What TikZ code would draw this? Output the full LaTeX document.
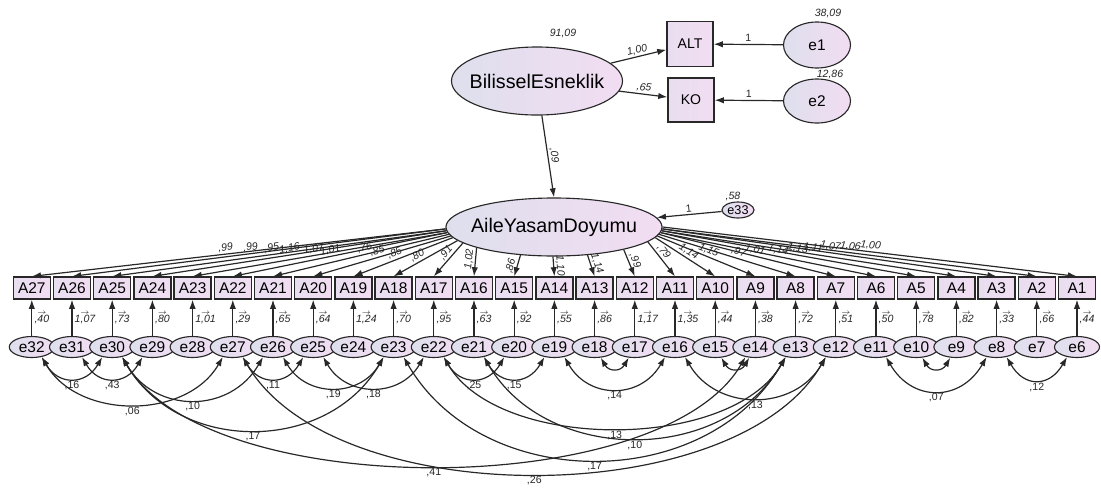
\documentclass[tikz,border=0pt]{standalone}
\usepackage{fontspec}
\setmainfont{Liberation Sans}
\usetikzlibrary{shapes,arrows.meta}

\definecolor{shadeL}{RGB}{222,223,237}
\definecolor{shadeR}{RGB}{242,221,242}
\definecolor{edgecol}{RGB}{40,40,40}

\begin{document}
\begin{tikzpicture}[
    x=0.025cm, y=0.025cm,
    >={Latex[length=6.5pt,width=4.5pt]},
    latent/.style={draw=edgecol, line width=0.8pt, ellipse, left color=shadeL, right color=shadeR, inner sep=0pt, inner xsep=-0.4cm, font=\fontsize{14}{16}\selectfont},
    obs/.style={draw=edgecol, line width=0.9pt, rectangle, left color=shadeL!50!shadeR, right color=shadeR, inner sep=0pt, minimum width=0.925cm, minimum height=0.55cm, font=\fontsize{11}{12}\selectfont},
    err/.style={draw=edgecol, line width=0.8pt, ellipse, left color=shadeL, right color=shadeR, inner sep=0pt, minimum width=1.125cm, minimum height=0.525cm, font=\fontsize{11}{12}\selectfont},
    lab/.style={font=\fontsize{7.5}{8}\selectfont\itshape, inner sep=1pt, text=black!85},
    elab/.style={lab, align=center, inner sep=0.5pt},
    clab/.style={font=\fontsize{7.5}{8}\selectfont, inner sep=1.5pt, text=black!85},
    arr/.style={->, draw=edgecol, line width=0.85pt},
    cov/.style={<->, draw=edgecol, line width=0.85pt, out=-60, in=-120}
]
\useasboundingbox (0,0) rectangle (1101,-489);

% Bilissel Esneklik
\node[latent, minimum width=4.275cm, minimum height=1.7cm] (BE) at (537,-81) {BilisselEsneklik};
\node[lab] (vBE) at (563,-33) {91,09};
\node[obs, minimum width=1.15cm, minimum height=1.125cm, font=\fontsize{10}{12}\selectfont] (ALT) at (690,-44) {ALT};
\node[obs, minimum width=1.15cm, minimum height=1.1cm, font=\fontsize{10}{12}\selectfont] (KO) at (691,-100) {KO};
\node[err, minimum width=1.675cm, minimum height=1.15cm, font=\fontsize{11}{12}\selectfont] (e1) at (817,-45) {e1};
\node[err, minimum width=1.675cm, minimum height=1.1cm, font=\fontsize{11}{12}\selectfont] (e2) at (817,-101) {e2};
\node[lab] (ve1) at (828,-13) {38,09};
\node[lab] (ve2) at (830,-74) {12,86};

\draw[arr] (BE) -- (ALT) node[lab, midway, sloped, above] {1,00};
\draw[arr] (BE) -- (KO) node[lab, midway, sloped, above] {,65};
\draw[arr] (e1) -- (ALT) node[clab, midway, above] {1};
\draw[arr] (e2) -- (KO) node[clab, midway, above] {1};

% Aile Yasam Doyumu
\node[latent, minimum width=5.4cm, minimum height=1.45cm] (AYD) at (554,-227) {AileYasamDoyumu};
\node[err, minimum width=0.8cm, minimum height=0.4cm, font=\fontsize{9}{10}\selectfont] (e33) at (738,-210) {e33};
\node[lab] (ve33) at (733,-196) {,58};
\draw[arr] (BE.-82) -- (AYD.north) node[lab, midway, sloped, above] {,09};
\draw[arr] (e33) -- (AYD) node[clab, midway, sloped, above] {1};

% Items, errors and loadings
\foreach \k/\l/\a/\p/\v in {
    27/{,99}/-179.5/0.53/{,40}, 26/{,99}/-179/0.52/{1,07}, 25/{,95}/-178.5/0.52/{,73},
    24/{1,16}/-178/0.53/{,80}, 23/{1,07}/-177.5/0.52/{1,01}, 22/{1,01}/-177/0.54/{,29},
    21/{,76}/-176/0.47/{,65}, 20/{,85}/-175/0.52/{,64}, 19/{,85}/-174/0.56/{1,24},
    18/{,80}/-172/0.58/{,70}, 17/{,91}/-170/0.42/{,95}, 16/{1,02}/-165/0.42/{,63},
    15/{,86}/-140/0.6/{,92}, 14/{1,10}/-92/0.5/{,55}, 13/{1,14}/-40/0.5/{,86},
    12/{,99}/-18/0.5/{1,17}, 11/{,79}/-9/0.4/{1,35}, 10/{1,14}/-6/0.5/{,44},
    9/{1,15}/-5/0.5/{,38}, 8/{,97}/-4/0.57/{,72}, 7/{1,01}/-3.5/0.53/{,51},
    6/{1,14}/-3/0.54/{,50}, 5/{1,13}/-2.5/0.53/{,78}, 4/{1,11}/-2/0.51/{,82},
    3/{1,07}/-1.5/0.5/{,33}, 2/{1,06}/-1/0.5/{,66}, 1/{1,00}/-0.5/0.5/{,44}}{
  \pgfmathsetmacro\xk{1077-(\k-1)*40.2}
  \pgfmathtruncatemacro\j{\k+5}
  \node[obs] (A\k) at (\xk,-288) {A\k};
  \node[err] (e\j) at (\xk,-347) {e\j};
  \draw[arr] (AYD.\a) -- (A\k.north) node[lab, pos=\p, sloped, above] {\l};
  \draw[arr] (e\j) -- (A\k) node[elab, midway, right, xshift=1pt] {$\scriptscriptstyle\rightarrow$\\[-2.5pt]\v};
}

% Error covariances
\foreach \a/\b/\l/\L in {
    32/30/{,16}/1.4, 31/29/{,43}/1.4, 27/25/{,11}/1.4, 22/20/{,25}/1.4,
    21/19/{,15}/1.4, 19/16/{,14}/1.25, 16/12/{,13}/1.15, 11/8/{,07}/1.33,
    8/6/{,12}/1.5, 32/27/{,06}/1.03, 30/26/{,10}/1.2, 30/23/{,17}/1.1,
    26/23/{,19}/1.2, 25/22/{,18}/1.2, 30/14/{,41}/0.69, 27/12/{,26}/0.79,
    23/13/{,17}/1.06, 22/13/{,13}/0.82, 21/13/{,10}/1.06}
  \draw[cov, looseness=\L] (e\a.-45) to node[clab, below] {\l} (e\b.-135);

\foreach \a/\b in {18/17, 15/14, 10/9}
  \draw[cov, looseness=1.5] (e\a.-60) to (e\b.-120);

\end{tikzpicture}
\end{document}
